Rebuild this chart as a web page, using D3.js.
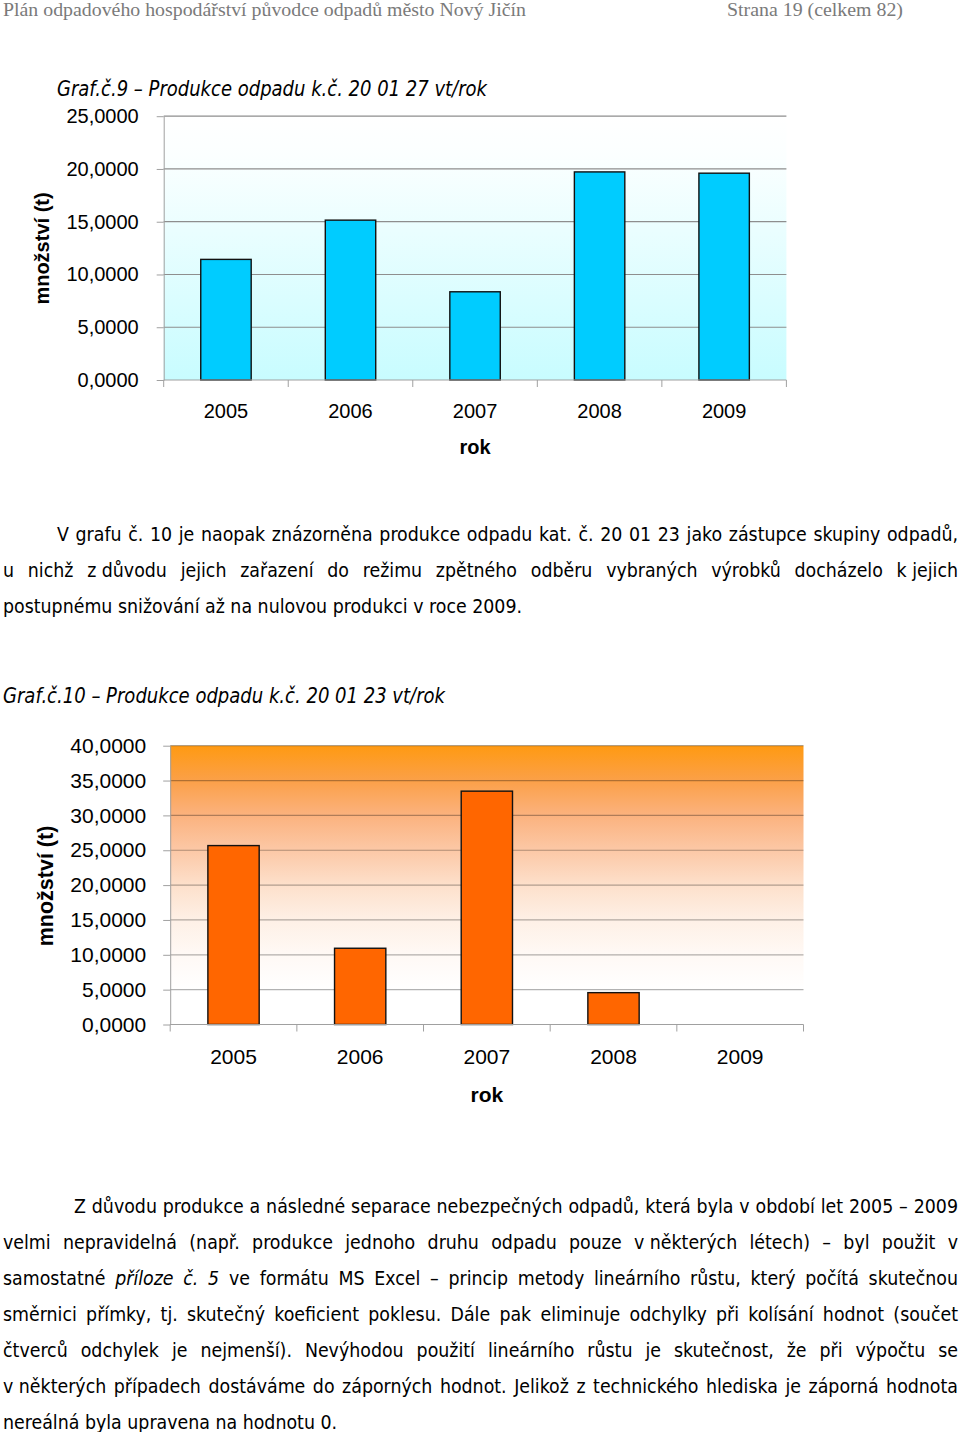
<!DOCTYPE html>
<html>
<head>
<meta charset="utf-8">
<script src="https://cdn.jsdelivr.net/npm/d3@7"></script>
<style>
  html, body { margin: 0; padding: 0; background: #fff; }
  svg { display: block; }
</style>
</head>
<body>
<svg id="page" width="960" height="1432"></svg>
<script>
// ---------------- DATA ----------------
const years = ["2005", "2006", "2007", "2008", "2009"];
const values1 = [11.43, 15.15, 8.36, 19.72, 19.60];   // Graf 9 – k.č. 20 01 27
const values2 = [25.67, 10.94, 33.48, 4.57, 0];        // Graf 10 – k.č. 20 01 23
const ticks1 = [0, 5, 10, 15, 20, 25];
const ticks2 = [0, 5, 10, 15, 20, 25, 30, 35, 40];

const headerLeft = "Plán odpadového hospodářství původce odpadů město Nový Jičín";
const headerRight = "Strana 19 (celkem 82)";
const title1 = "Graf.č.9 – Produkce odpadu k.č. 20 01 27 vt/rok";
const title2 = "Graf.č.10 – Produkce odpadu k.č. 20 01 23 vt/rok";
const yTitle = "množství (t)";
const xTitle = "rok";

const para1 = [
  "V grafu č. 10 je naopak znázorněna produkce odpadu kat. č. 20 01 23 jako zástupce skupiny odpadů,",
  "u nichž z\u00a0důvodu jejich zařazení do režimu zpětného odběru vybraných výrobků docházelo k\u00a0jejich",
  "postupnému snižování až na nulovou produkci v roce 2009."
];
const para2 = [
  "Z důvodu produkce a následné separace nebezpečných odpadů, která byla v období let 2005 – 2009",
  "velmi nepravidelná (např. produkce jednoho druhu odpadu pouze v\u00a0některých létech) – byl použit v",
  "samostatné *příloze *č. *5 ve formátu MS Excel – princip metody lineárního růstu, který počítá skutečnou",
  "směrnici přímky, tj. skutečný koeficient poklesu. Dále pak eliminuje odchylky při kolísání hodnot (součet",
  "čtverců odchylek je nejmenší). Nevýhodou použití lineárního růstu je skutečnost, že při výpočtu se",
  "v\u00a0některých případech dostáváme do záporných hodnot. Jelikož z technického hlediska je záporná hodnota",
  "nereálná byla upravena na hodnotu 0."
];

// ---------------- PAGE ----------------
const svg = d3.select("#page");
const bodyFont = "'DejaVu Sans Condensed', 'DejaVu Sans', sans-serif";
const chartFont = "'Liberation Sans', Arial, sans-serif";
const fmt = v => d3.format(".4f")(v).replace(".", ",");

// header
svg.append("text").attr("x", 3).attr("y", 16)
  .attr("font-family", "'Liberation Serif', 'Times New Roman', serif")
  .attr("font-size", 19).attr("fill", "#7a7a7a")
  .attr("textLength", 523).attr("lengthAdjust", "spacingAndGlyphs")
  .text(headerLeft);
svg.append("text").attr("x", 727).attr("y", 16)
  .attr("font-family", "'Liberation Serif', 'Times New Roman', serif")
  .attr("font-size", 19).attr("fill", "#7a7a7a")
  .attr("textLength", 176).attr("lengthAdjust", "spacingAndGlyphs")
  .text(headerRight);

// defs (gradients)
const defs = svg.append("defs");
function gradient(id, stops) {
  const lg = defs.append("linearGradient").attr("id", id).attr("x1", 0).attr("y1", 0).attr("x2", 0).attr("y2", 1);
  stops.forEach(s => lg.append("stop").attr("offset", s[0]).attr("stop-color", s[1]));
}
gradient("bg1", [["0%", "#ffffff"], ["15%", "#fbffff"], ["100%", "#c8fcff"]]);
gradient("bg2", [["0%", "#ff9a12"], ["12.5%", "#fba048"], ["25%", "#fbb27e"], ["37.5%", "#fcc8a6"],
                 ["50%", "#fde0cb"], ["62.5%", "#fef0e6"], ["75%", "#fff9f5"], ["87.5%", "#ffffff"], ["100%", "#ffffff"]]);

function drawChart(opt) {
  const g = svg.append("g");
  const x = d3.scaleBand().domain(years).range([opt.x0, opt.x1])
    .paddingInner(0.595).paddingOuter(0.2975);
  const y = d3.scaleLinear().domain([0, opt.max]).range([opt.yB, opt.yT]);

  // title
  g.append("text").attr("x", opt.titleX).attr("y", opt.titleY)
    .attr("font-family", bodyFont).attr("font-style", "italic")
    .attr("font-size", opt.titleSize).attr("fill", "#000")
    .attr("textLength", opt.titleW).attr("lengthAdjust", "spacingAndGlyphs")
    .text(opt.title);

  // plot background
  g.append("rect").attr("x", opt.x0).attr("y", y(opt.max))
    .attr("width", opt.x1 - opt.x0).attr("height", y(0) - y(opt.max))
    .attr("fill", `url(#${opt.grad})`);

  // gridlines
  g.append("g").selectAll("line").data(opt.ticks.filter(t => t > 0)).join("line")
    .attr("x1", opt.x0).attr("x2", opt.x1)
    .attr("y1", d => y(d)).attr("y2", d => y(d))
    .attr("stroke", opt.gridColor).attr("stroke-opacity", opt.gridOpacity).attr("stroke-width", 1.2);

  // y axis
  const ya = g.append("g").attr("transform", `translate(${opt.x0},0)`)
    .call(d3.axisLeft(y).tickValues(opt.ticks).tickFormat(fmt).tickSizeInner(7).tickSizeOuter(0).tickPadding(opt.yPad));
  ya.select(".domain").attr("stroke", "#a0a0a0");
  ya.selectAll(".tick line").attr("stroke", "#a0a0a0");
  ya.selectAll(".tick text").attr("font-family", chartFont).attr("font-size", opt.tickSize).attr("fill", "#000");

  // bars
  g.append("g").selectAll("rect").data(years.map((d, i) => ({ year: d, v: opt.values[i] })).filter(d => d.v > 0)).join("rect")
    .attr("x", d => x(d.year)).attr("width", x.bandwidth())
    .attr("y", d => y(d.v)).attr("height", d => y(0) - y(d.v))
    .attr("fill", opt.barColor).attr("stroke", "#111").attr("stroke-width", 1.4);

  // x axis baseline and category ticks
  const step = x.step();
  const bounds = d3.range(years.length + 1).map(i => opt.x0 + i * step);
  g.append("line").attr("x1", opt.x0).attr("x2", opt.x1).attr("y1", y(0)).attr("y2", y(0))
    .attr("stroke", "#a0a0a0");
  g.append("g").selectAll("line").data(bounds).join("line")
    .attr("x1", d => d).attr("x2", d => d).attr("y1", y(0)).attr("y2", y(0) + 7)
    .attr("stroke", "#a0a0a0");

  // x labels
  g.append("g").selectAll("text").data(years).join("text")
    .attr("x", d => x(d) + x.bandwidth() / 2).attr("y", opt.xLabY).attr("dy", "0.35em")
    .attr("text-anchor", "middle").attr("font-family", chartFont)
    .attr("font-size", opt.tickSize).attr("fill", "#000").text(d => d);

  // axis titles
  g.append("text").attr("x", (opt.x0 + opt.x1) / 2).attr("y", opt.xTitleY).attr("dy", "0.35em")
    .attr("text-anchor", "middle").attr("font-family", chartFont).attr("font-weight", "bold")
    .attr("font-size", opt.tickSize).attr("fill", "#000").text(xTitle);
  g.append("text").attr("transform", `translate(${opt.yTitleX},${opt.yTitleY}) rotate(-90)`)
    .attr("dy", "0.35em").attr("text-anchor", "middle").attr("font-family", chartFont)
    .attr("font-weight", "bold").attr("font-size", opt.yTitleSize).attr("fill", "#000").text(yTitle);
}

drawChart({
  title: title1, titleX: 57, titleY: 95.5, titleSize: 20.5, titleW: 430,
  x0: 163.7, x1: 786.4, yT: 116.2, yB: 380, max: 25, ticks: ticks1, values: values1,
  grad: "bg1", gridColor: "#8e8e8e", gridOpacity: 1, barColor: "#00ccff",
  tickSize: 20, yPad: 18, xLabY: 410.7, xTitleY: 446.7,
  yTitleX: 41.7, yTitleY: 248.5, yTitleSize: 20
});
drawChart({
  title: title2, titleX: 3, titleY: 702.5, titleSize: 21, titleW: 442,
  x0: 170.2, x1: 803.5, yT: 745.7, yB: 1024.5, max: 40, ticks: ticks2, values: values2,
  grad: "bg2", gridColor: "#000", gridOpacity: 0.3, barColor: "#ff6600",
  tickSize: 21, yPad: 17, xLabY: 1056.7, xTitleY: 1095,
  yTitleX: 45, yTitleY: 886, yTitleSize: 21.5
});

// ---------------- BODY TEXT ----------------
const bodySize = 19.5;
const tg = svg.append("g").attr("font-family", bodyFont).attr("font-size", bodySize).attr("fill", "#000");

function measure(str, italic) {
  const t = tg.append("text").attr("font-style", italic ? "italic" : null).text(str);
  const w = t.node().getComputedTextLength();
  t.remove();
  return w;
}
const spaceW = measure("a a") - measure("aa");

// horizontal scale factor from unjustified reference lines
const refs = [
  { s: para1[2], w: 519 },
  { s: para2[6], w: 334 }
];
const sx = d3.mean(refs, r => r.w / (measure(r.s.replace(/\*/g, ""), false)));

function drawLine(str, x0, x1, y, justify) {
  const words = str.split(" ").map(w => {
    const it = w.startsWith("*");
    const txt = it ? w.slice(1) : w;
    return { txt, it, w: measure(txt, it) * sx };
  });
  const total = d3.sum(words, d => d.w);
  const gap = justify ? (x1 - x0 - total) / (words.length - 1) : spaceW * sx;
  let x = x0;
  words.forEach(d => {
    tg.append("text").attr("x", x).attr("y", y)
      .attr("font-style", d.it ? "italic" : null)
      .attr("textLength", d.w).attr("lengthAdjust", "spacingAndGlyphs")
      .text(d.txt);
    x += d.w + gap;
  });
}

const p1Y = [540.5, 576.5, 612.5];
drawLine(para1[0], 57, 958, p1Y[0], true);
drawLine(para1[1], 3, 958, p1Y[1], true);
drawLine(para1[2], 3, 958, p1Y[2], false);

const p2Y = [1212.5, 1248.5, 1284.5, 1320.5, 1356.5, 1392.5, 1428.5];
para2.forEach((s, i) => {
  drawLine(s, i === 0 ? 74 : 3, 958, p2Y[i], i < para2.length - 1);
});
</script>
</body>
</html>
